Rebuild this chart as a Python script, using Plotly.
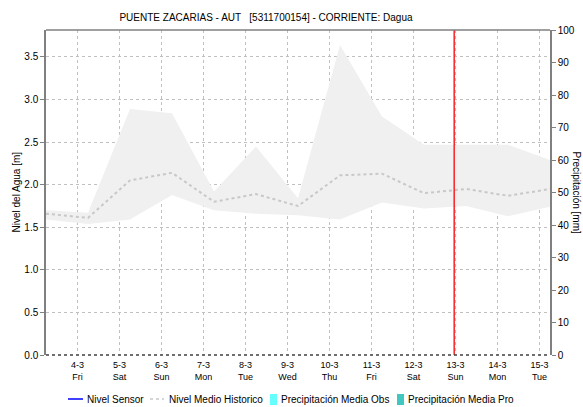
import plotly.graph_objects as go
import pandas as pd

# ---- data ----
dates = pd.date_range("2022-03-03 06:00", "2022-03-15 06:00", freq="D")
hist_upper = [1.70, 1.67, 2.89, 2.84, 1.92, 2.45, 1.84, 3.64, 2.80, 2.47, 2.47, 2.47, 2.29]
hist_lower = [1.59, 1.54, 1.59, 1.88, 1.70, 1.66, 1.64, 1.59, 1.79, 1.72, 1.75, 1.63, 1.74]
hist_mean = [1.66, 1.61, 2.05, 2.14, 1.80, 1.89, 1.75, 2.11, 2.13, 1.90, 1.95, 1.87, 1.95]
tick_days = pd.date_range("2022-03-04", "2022-03-15", freq="D")
tick_labels = [f"{d.day}-{d.month}<br>{d.strftime('%a')}" for d in tick_days]
now_time = pd.Timestamp("2022-03-12 23:15")
title = "PUENTE ZACARIAS - AUT   [5311700154] - CORRIENTE: Dagua"
legend_names = ["Nivel Sensor", "Nivel Medio Historico",
                "Precipitación Media Obs", "Precipitación Media Pro"]
legend_colors = ["#0000ff", "#c8c8c8", "#66ffff", "#40c8c0"]

# plot-area geometry (pixels) for helpers
L, R, T, B = 46, 550, 30, 355
PW, PH = R - L, B - T


def px_x(px):
    return (px - L) / PW


def px_y(py):
    return (B - py) / PH


fig = go.Figure()

# band
fig.add_trace(go.Scatter(x=list(dates), y=hist_upper, mode="lines", line=dict(width=0),
                         showlegend=False, hoverinfo="skip"))
fig.add_trace(go.Scatter(x=list(dates), y=hist_lower, mode="lines", line=dict(width=0),
                         fill="tonexty", fillcolor="#f0f0f0", showlegend=False, hoverinfo="skip"))
fig.add_trace(go.Scatter(x=list(dates), y=hist_mean, mode="lines", name=legend_names[1],
                         line=dict(color="#c8c8c8", width=2, dash="dot"), showlegend=False))

fig.add_shape(type="line", xref="x", yref="paper", x0=now_time, x1=now_time, y0=0, y1=1,
              line=dict(color="#ff2020", width=1.5))
# top border & dotted bottom
fig.add_shape(type="line", xref="paper", yref="paper", x0=0, x1=1, y0=1, y1=1,
              line=dict(color="#808080", width=1.5))
fig.add_shape(type="line", xref="paper", yref="paper", x0=0, x1=1, y0=0, y1=0,
              line=dict(color="#404040", width=1.5, dash="dot"))

# manual legend
ly = px_y(399)
fig.add_shape(type="line", xref="paper", yref="paper", x0=px_x(68), x1=px_x(83), y0=ly, y1=ly,
              line=dict(color=legend_colors[0], width=1.5))
fig.add_shape(type="line", xref="paper", yref="paper", x0=px_x(150), x1=px_x(164), y0=ly, y1=ly,
              line=dict(color=legend_colors[1], width=1.5, dash="dot"))
fig.add_shape(type="rect", xref="paper", yref="paper", x0=px_x(270), x1=px_x(277),
              y0=px_y(405), y1=px_y(394), line=dict(width=0), fillcolor=legend_colors[2])
fig.add_shape(type="rect", xref="paper", yref="paper", x0=px_x(397), x1=px_x(404),
              y0=px_y(405), y1=px_y(394), line=dict(width=0), fillcolor=legend_colors[3])
legend_text_x = [85, 167, 279, 406]
annotations = []
for name, tx in zip(legend_names, legend_text_x):
    annotations.append(dict(text=name, xref="paper", yref="paper", x=px_x(tx), y=ly,
                            xanchor="left", yanchor="middle", showarrow=False,
                            font=dict(size=10, color="#000000")))
annotations += [
    dict(text="Nivel del Agua [m]", xref="paper", yref="paper", x=px_x(16),
         y=0.5, xanchor="center", yanchor="middle", textangle=-90, showarrow=False,
         font=dict(size=10)),
    dict(text="Precipitación [mm]", xref="paper", yref="paper", x=px_x(576),
         y=0.5, xanchor="center", yanchor="middle", textangle=90, showarrow=False,
         font=dict(size=10)),
]

fig.update_layout(
    width=583, height=407,
    margin=dict(l=L, r=583 - R, t=T, b=407 - B, autoexpand=False),
    paper_bgcolor="white", plot_bgcolor="white",
    font=dict(family="Liberation Sans, Arial, sans-serif", size=10, color="#000000"),
    title=dict(text=title, x=266 / 583, xanchor="center", y=1 - 17 / 407,
               yanchor="middle", font=dict(size=10)),
    showlegend=False,
    xaxis=dict(range=[dates[0], dates[-1]], tickvals=list(tick_days), ticktext=tick_labels,
               showgrid=True, gridcolor="#c0c0c0", griddash="dot", gridwidth=1,
               zeroline=False, showline=False, ticks="", tickfont=dict(size=9),
               ticklabelstandoff=3, automargin=False),
    yaxis=dict(range=[0, 3.817], dtick=0.5, tickformat=".1f", showgrid=True,
               gridcolor="#c0c0c0", griddash="dot", gridwidth=1, zeroline=False,
               showline=True, linecolor="#808080", linewidth=1.5, ticks="outside",
               ticklen=4, tickcolor="#808080", tickfont=dict(size=10), automargin=False),
    yaxis2=dict(range=[0, 100], dtick=10, overlaying="y", side="right", showgrid=False,
                zeroline=False, showline=True, linecolor="#808080", linewidth=1.5,
                ticks="outside", ticklen=4, tickcolor="#808080", tickfont=dict(size=10),
                automargin=False),
    annotations=annotations,
)
# secondary axis needs a trace to be drawn
fig.add_trace(go.Scatter(x=[None], y=[None], yaxis="y2", showlegend=False, hoverinfo="skip"))

fig.write_html("out.html", config={"displayModeBar": False},
               post_script="document.body.style.margin='0';")
